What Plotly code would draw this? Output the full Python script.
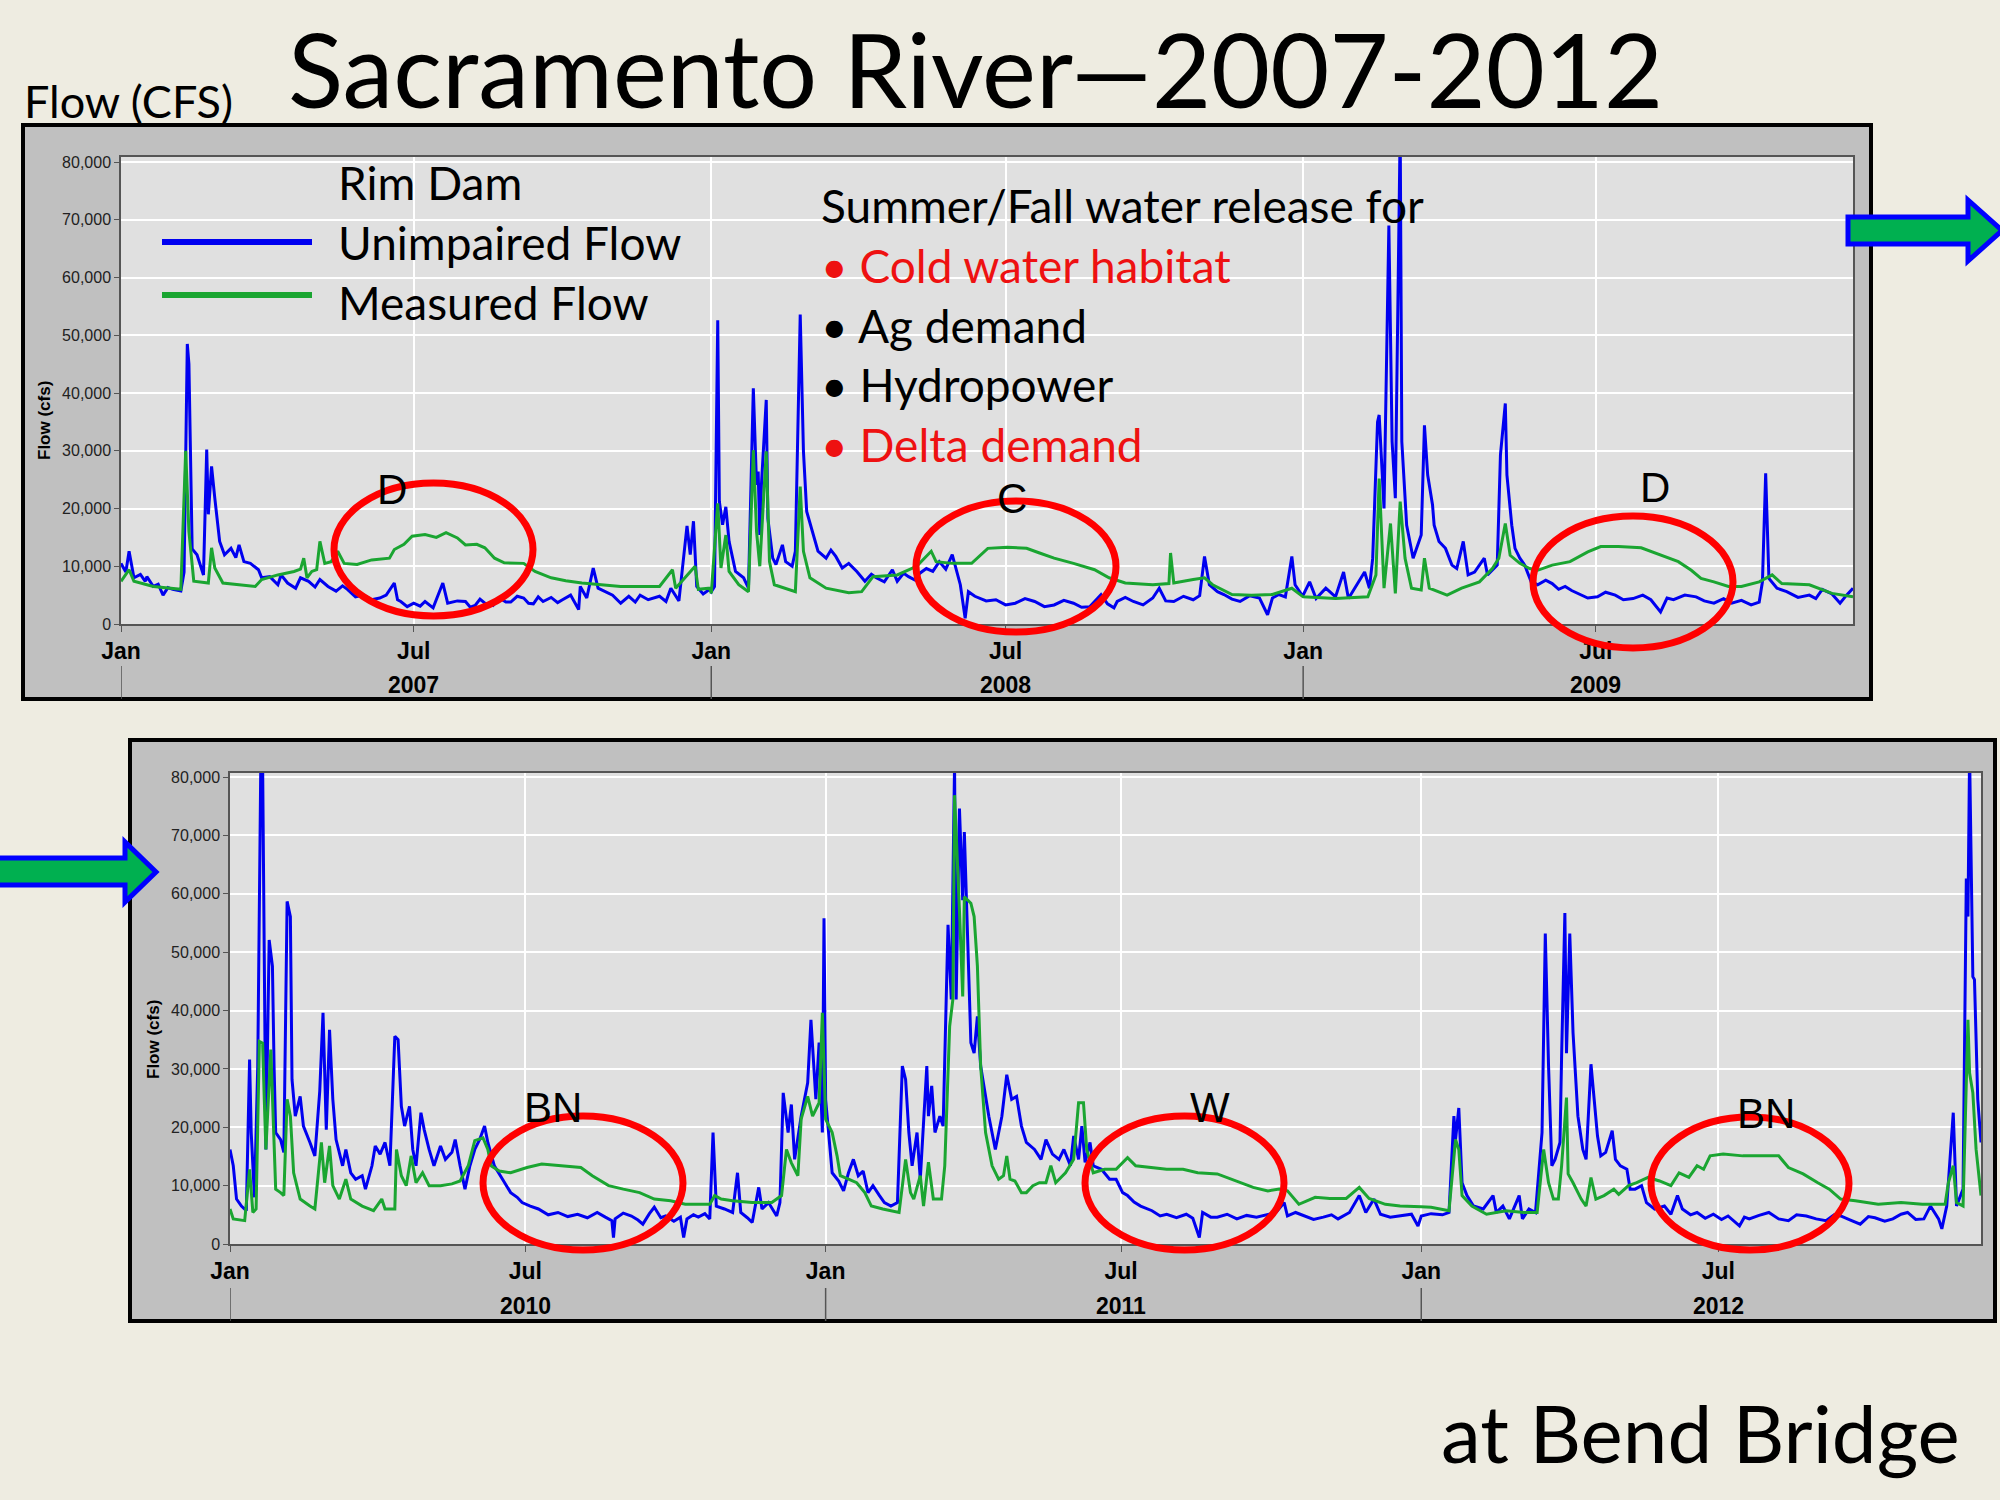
import pandas as pd
import plotly.graph_objects as go

W, H = 2000, 1500
SLIDE_FONT = "Lato"
CHART_FONT = "Liberation Sans"
BLUE = "#0000f0"
GREEN = "#1aa531"
RED = "#ee1111"

# (day of year, cfs), one list per series per year
U2007 = [(0, 10500), (3, 9000), (5, 12600), (8, 8000), (12, 8600), (15, 7400), (16, 8200), (20, 6500),
         (23, 6900), (26, 5000), (29, 6300), (32, 6000), (37, 5700), (39, 9000), (41, 48500), (42, 45000),
         (44, 13000), (47, 12000), (51, 8500), (53, 30200), (54, 19000), (56, 27300), (58, 21800),
         (61, 14300), (64, 12000), (68, 13100), (71, 11500), (73, 13700), (76, 10800), (80, 10500),
         (85, 9400), (87, 8000), (92, 8200), (97, 6800), (99, 8500), (103, 7100), (108, 6200), (111, 8000),
         (116, 7400), (120, 6400), (123, 7700), (128, 6500), (133, 5700), (137, 6600), (140, 6000),
         (145, 4700), (150, 5000), (155, 4200), (160, 4500), (164, 5000), (169, 7100), (171, 4200),
         (173, 3900), (177, 3000), (181, 3600), (185, 3100), (188, 3900), (193, 2800), (199, 7100),
         (202, 3600), (208, 4000), (213, 3900), (216, 2900), (219, 3200), (222, 4300), (225, 3600),
         (230, 3200), (234, 4500), (238, 3800), (241, 3800), (245, 4800), (249, 4500), (252, 3600),
         (255, 3500), (258, 4700), (261, 3900), (266, 4600), (270, 3700), (273, 4200), (278, 5000),
         (283, 2500), (284, 6500), (288, 4500), (292, 9700), (295, 6200), (300, 5500), (304, 5000),
         (309, 3600), (314, 4800), (318, 3800), (321, 5000), (326, 4200), (333, 4800), (337, 3900),
         (340, 6200), (345, 4000), (350, 17000), (352, 12000), (354, 17800), (356, 6500), (360, 5200),
         (364, 6000)]
M2007 = [(0, 7400), (5, 9400), (8, 7400), (20, 6500), (37, 6000), (40, 30000), (42, 16000), (45, 7400),
         (54, 7100), (56, 13200), (58, 9700), (63, 7100), (83, 6500), (87, 7700), (97, 8500), (107, 9100),
         (111, 9500), (113, 11400), (115, 8000), (118, 9100), (121, 9400), (123, 14300), (126, 10500),
         (130, 10800), (134, 12600), (138, 10500), (146, 10300), (155, 11100), (166, 11400), (169, 12900),
         (175, 13800), (180, 15200), (188, 15500), (195, 15000), (201, 15800), (208, 14900), (213, 13700),
         (220, 13800), (225, 13200), (231, 11400), (237, 10600), (249, 10500), (256, 9100), (266, 8000),
         (275, 7500), (285, 7100), (297, 6800), (309, 6500), (333, 6500), (341, 9400), (343, 6200),
         (355, 10000), (357, 6000), (364, 6200)]

U2008 = [(0, 5600), (2, 6500), (4, 52600), (5, 21200), (7, 17200), (9, 20300), (11, 14300), (15, 9100),
         (20, 8000), (23, 6200), (26, 40800), (28, 24100), (29, 26400), (30, 15400), (31, 24000),
         (34, 38800), (35, 18300), (38, 11400), (40, 10300), (44, 13700), (46, 10800), (50, 10000),
         (52, 12600), (55, 53600), (57, 29900), (59, 19500), (62, 16600), (66, 12600), (71, 11400),
         (74, 12800), (77, 11700), (81, 9700), (85, 10500), (90, 9100), (95, 7400), (99, 8600), (102, 8000),
         (107, 7300), (112, 9400), (115, 7400), (119, 8800), (122, 8200), (126, 7600), (129, 8800),
         (133, 9600), (137, 9100), (141, 10800), (145, 9500), (149, 12000), (152, 9000), (154, 6800),
         (157, 1000), (159, 5600), (163, 4800), (170, 4000), (176, 4200), (182, 3300), (188, 3600),
         (194, 4400), (200, 3900), (206, 3000), (212, 3300), (218, 4100), (224, 3600), (229, 2900),
         (234, 3000), (241, 5100), (245, 3500), (249, 2800), (251, 3900), (256, 4600), (261, 3900),
         (267, 3300), (273, 4500), (277, 6200), (281, 4000), (286, 3900), (292, 4800), (298, 4200),
         (302, 4900), (305, 11700), (308, 6800), (313, 5600), (317, 5100), (322, 4300), (327, 3900),
         (333, 4900), (339, 4500), (344, 1600), (347, 4500), (351, 5100), (355, 4700), (359, 11700),
         (361, 6800), (365, 5100)]
M2008 = [(0, 5300), (4, 20900), (6, 9700), (9, 15400), (11, 9100), (17, 6800), (23, 5600), (26, 30100),
         (28, 16000), (30, 10000), (34, 29900), (36, 10800), (39, 6800), (46, 6200), (52, 5600), (55, 23800),
         (57, 12600), (61, 8000), (71, 6200), (85, 5400), (93, 5600), (100, 8200), (115, 8500), (127, 10000),
         (136, 12600), (139, 10800), (149, 10500), (161, 10500), (171, 13100), (183, 13300), (195, 13100),
         (203, 12300), (212, 11400), (224, 10500), (237, 9400), (246, 8000), (256, 7100), (273, 6800),
         (283, 7000), (284, 12300), (286, 7100), (298, 7700), (305, 8000), (310, 6800), (322, 5100),
         (334, 5000), (347, 5100), (359, 6200), (365, 5000)]

U2009 = [(0, 5000), (4, 7300), (8, 4400), (14, 6200), (20, 4700), (25, 9000), (28, 4400), (32, 6200),
         (38, 9000), (41, 6200), (43, 11400), (46, 35000), (47, 36200), (50, 20000), (53, 69000),
         (55, 31600), (57, 21800), (60, 86000), (61, 31600), (64, 17100), (68, 11400), (73, 15400),
         (75, 34400), (77, 25800), (80, 20600), (81, 17100), (84, 14300), (88, 13100), (92, 10200),
         (95, 9600), (99, 14300), (102, 8500), (106, 9000), (112, 11400), (114, 8500), (120, 10200),
         (122, 29300), (125, 38200), (126, 25800), (129, 17100), (131, 13100), (134, 11400), (137, 10200),
         (141, 7300), (145, 6800), (150, 7600), (154, 7000), (158, 6000), (162, 6500), (166, 5800),
         (170, 5300), (176, 4500), (182, 4700), (187, 5500), (193, 5000), (198, 4200), (204, 4400),
         (210, 5000), (215, 4200), (221, 2100), (225, 4500), (229, 4200), (236, 5000), (243, 4700),
         (248, 4000), (254, 3600), (260, 4400), (265, 3600), (271, 4100), (277, 3300), (282, 3800),
         (284, 7300), (286, 26100), (288, 7900), (293, 6200), (299, 5600), (306, 4600), (313, 5000),
         (317, 4400), (321, 6000), (327, 5200), (332, 3600), (336, 5000), (340, 6200)]
M2009 = [(0, 4700), (20, 4400), (40, 4700), (45, 8500), (47, 25200), (50, 6200), (54, 17400), (57, 5300),
         (60, 21200), (63, 11400), (67, 6200), (73, 5900), (75, 11400), (78, 6200), (89, 5000), (98, 6200),
         (109, 7300), (117, 9600), (121, 11400), (125, 17400), (128, 11900), (134, 10500), (140, 9600),
         (145, 9300), (154, 10200), (165, 10800), (176, 12500), (184, 13400), (195, 13400), (209, 13200),
         (221, 11900), (232, 10800), (240, 9300), (246, 7900), (254, 7300), (263, 6500), (271, 6500),
         (282, 7300), (290, 8500), (296, 7000), (313, 6800), (327, 5300), (340, 4700)]

U2010 = [(0, 16200), (2, 13400), (4, 7700), (7, 6500), (10, 5700), (12, 31600), (13, 19100), (15, 8000),
         (17, 30500), (19, 86000), (20, 82000), (21, 53200), (22, 16200), (24, 52100), (26, 47600),
         (27, 30500), (28, 19100), (31, 17900), (33, 15700), (35, 58700), (37, 56100), (38, 28200),
         (40, 21900), (43, 25300), (45, 20200), (49, 17400), (52, 15100), (55, 26200), (57, 39600),
         (59, 19600), (61, 36700), (63, 24800), (65, 17900), (69, 13400), (71, 16200), (74, 12200),
         (77, 11100), (81, 11700), (83, 9400), (87, 13400), (89, 16800), (92, 15400), (95, 17400),
         (98, 13400), (101, 35600), (103, 35000), (105, 23600), (107, 20200), (110, 23600), (112, 16200),
         (114, 13400), (117, 22500), (119, 19600), (122, 16200), (125, 13400), (129, 16800), (132, 14500),
         (136, 15700), (138, 17900), (141, 13400), (144, 9400), (147, 13400), (150, 16200), (153, 17900),
         (156, 20200), (158, 17400), (162, 13400), (167, 11100), (172, 8800), (176, 8000), (179, 7100),
         (184, 6500), (189, 6000), (195, 5000), (201, 5400), (207, 4700), (213, 5100), (219, 4500),
         (225, 5400), (230, 4600), (234, 4000), (235, 1100), (236, 4300), (241, 5300), (246, 4800),
         (250, 4100), (253, 3400), (257, 5200), (260, 6300), (264, 4500), (267, 4800), (272, 3900),
         (276, 4600), (278, 1100), (280, 4300), (284, 5000), (287, 4600), (291, 5200), (294, 4300),
         (296, 19100), (298, 6500), (303, 6000), (308, 5400), (311, 12200), (313, 5400), (317, 4500),
         (320, 3700), (324, 9700), (326, 6000), (330, 7100), (335, 4800), (337, 7100), (339, 25900),
         (342, 19100), (344, 23900), (346, 14500), (350, 21900), (354, 27600), (356, 38400), (359, 24800),
         (361, 34500), (363, 19100), (364, 55800)]
M2010 = [(0, 6000), (2, 4300), (9, 4000), (12, 12800), (14, 5400), (16, 6000), (18, 34700), (20, 34400),
         (21, 24800), (22, 16200), (25, 33300), (27, 15000), (28, 9400), (31, 8800), (33, 8300), (35, 24800),
         (37, 21900), (39, 12200), (43, 7700), (49, 6500), (52, 6000), (56, 17400), (58, 10500), (61, 16800),
         (63, 10000), (67, 7700), (71, 11100), (74, 7700), (81, 6500), (88, 5700), (93, 7700), (95, 6000),
         (101, 6000), (102, 16200), (105, 11700), (108, 10000), (111, 15100), (114, 10500), (118, 12200),
         (122, 10000), (129, 10000), (136, 10300), (141, 10800), (146, 13400), (150, 17700), (155, 18200),
         (158, 16200), (160, 13400), (165, 12500), (172, 12200), (182, 13100), (191, 13700), (203, 13400),
         (215, 13100), (222, 11700), (232, 10000), (241, 9400), (251, 8800), (260, 7700), (270, 7400),
         (279, 6800), (294, 6800), (297, 8300), (301, 7700), (308, 7400), (320, 7100), (332, 7100),
         (338, 8300), (341, 16200), (344, 13900), (348, 11700), (350, 21400), (354, 25300), (357, 21900),
         (361, 24200), (363, 39600)]

U2011 = [(0, 24800), (2, 19100), (4, 12200), (8, 10800), (11, 9100), (14, 12200), (17, 14500), (20, 11700),
         (23, 12500), (26, 8800), (29, 10000), (33, 8300), (36, 7100), (40, 6500), (44, 7100), (47, 30500),
         (49, 28200), (51, 19100), (53, 13400), (56, 19100), (58, 11100), (62, 30500), (63, 21900),
         (65, 27100), (67, 19100), (70, 21900), (72, 20200), (75, 54700), (77, 41900), (79, 82000),
         (80, 41900), (82, 74600), (84, 58900), (85, 70600), (87, 53200), (89, 34500), (91, 32700),
         (93, 39000), (95, 30500), (100, 21900), (104, 16200), (108, 21900), (111, 29000), (114, 24800),
         (117, 25300), (120, 20200), (123, 17400), (128, 16200), (132, 14500), (135, 17900), (139, 15400),
         (143, 14500), (146, 16200), (150, 13400), (152, 18500), (155, 14500), (157, 20200), (159, 14000),
         (162, 17400), (164, 13400), (169, 12800), (174, 11100), (178, 11100), (182, 8800), (185, 8300),
         (189, 7200), (193, 6500), (197, 6000), (200, 5700), (205, 4800), (209, 5100), (215, 4500),
         (221, 5100), (225, 4400), (229, 1100), (231, 5400), (236, 4600), (240, 4600), (246, 5100),
         (252, 4300), (258, 4900), (264, 4600), (270, 5000), (276, 5400), (281, 7100), (283, 4800),
         (288, 5400), (293, 4800), (299, 4200), (305, 4600), (310, 5000), (314, 4300), (321, 5400),
         (327, 8300), (331, 5400), (336, 7700), (340, 5100), (346, 4600), (352, 4800), (359, 5100),
         (363, 3100)]
M2011 = [(0, 21400), (4, 19100), (7, 15100), (9, 11700), (14, 11100), (19, 10500), (24, 8800), (28, 6500),
         (35, 6000), (45, 5400), (49, 14500), (52, 8800), (54, 7700), (58, 11700), (60, 6500), (63, 14000),
         (66, 7700), (71, 7700), (73, 13400), (76, 37300), (78, 42000), (79, 76900), (82, 57200), (84, 42400),
         (85, 59500), (89, 58400), (91, 56100), (93, 47600), (95, 30500), (98, 19100), (102, 13400),
         (106, 11100), (109, 11700), (111, 15100), (113, 11100), (116, 10800), (120, 8800), (123, 8800),
         (127, 10000), (131, 10500), (135, 10500), (138, 13400), (141, 10500), (147, 12200), (152, 14500),
         (155, 24200), (158, 24200), (160, 16200), (164, 12200), (171, 12800), (178, 12800), (182, 14000),
         (185, 14800), (190, 13400), (200, 13100), (209, 12800), (219, 12800), (228, 12200), (240, 12000),
         (252, 10800), (262, 9700), (271, 9100), (278, 9400), (283, 9100), (290, 6800), (300, 8000),
         (309, 7800), (319, 7800), (327, 9700), (333, 7800), (343, 6800), (352, 6500), (364, 6500)]

U2012 = [(0, 4800), (6, 5200), (13, 5000), (17, 5400), (20, 21900), (21, 17900), (23, 23300), (25, 10500),
         (28, 8300), (32, 6500), (38, 6000), (44, 8300), (46, 5400), (50, 6500), (54, 4300), (60, 8300),
         (62, 4300), (66, 6000), (70, 5400), (74, 19100), (76, 53200), (78, 30500), (80, 13400), (82, 14500),
         (85, 17400), (86, 32200), (88, 56700), (89, 32700), (91, 53200), (93, 36200), (96, 21900),
         (99, 16200), (101, 14500), (104, 30800), (106, 24800), (108, 18500), (110, 15100), (113, 15700),
         (117, 19400), (119, 14500), (122, 13400), (126, 12800), (128, 9400), (131, 9400), (135, 10000),
         (138, 7100), (143, 6000), (149, 6500), (153, 5100), (157, 8300), (160, 6000), (165, 5000),
         (169, 5400), (174, 4400), (179, 5100), (184, 4200), (188, 4800), (195, 3100), (198, 4600),
         (201, 4300), (207, 4900), (213, 5400), (219, 4300), (225, 4000), (230, 5000), (236, 4800),
         (242, 4300), (248, 4000), (253, 5000), (257, 4800), (263, 4100), (269, 3400), (274, 4700),
         (278, 4500), (284, 3900), (289, 4300), (294, 5100), (298, 5400), (303, 4200), (308, 4300),
         (312, 6500), (317, 4300), (319, 2600), (322, 6500), (326, 22500), (328, 6500), (332, 9400),
         (334, 62600), (335, 56100), (336, 84000), (338, 45800), (339, 45300), (341, 24800), (343, 17400)]
M2012 = [(0, 6400), (6, 6300), (17, 5700), (21, 17900), (23, 16200), (25, 8300), (31, 6500), (40, 5100),
         (52, 5700), (63, 5400), (71, 5400), (75, 16200), (78, 10500), (81, 7700), (84, 7700), (86, 13400),
         (89, 25100), (90, 12000), (93, 10500), (98, 7700), (101, 6500), (104, 11400), (107, 7700),
         (112, 8300), (118, 9400), (121, 8500), (127, 10000), (132, 10500), (139, 11400), (146, 10800),
         (153, 10000), (158, 12200), (164, 11400), (169, 13400), (173, 12800), (177, 15100), (185, 15400),
         (197, 15100), (208, 15100), (219, 15100), (225, 13100), (234, 12000), (243, 10500), (250, 9400),
         (257, 7700), (266, 7400), (280, 6800), (294, 7100), (307, 6800), (321, 6800), (323, 10500),
         (326, 13400), (328, 7100), (332, 6500), (335, 38400), (336, 29300), (338, 25900), (340, 16200),
         (343, 8300)]

TOP_UNIMPAIRED = [(2007, U2007), (2008, U2008), (2009, U2009)]
TOP_MEASURED = [(2007, M2007), (2008, M2008), (2009, M2009)]
BOTTOM_UNIMPAIRED = [(2010, U2010), (2011, U2011), (2012, U2012)]
BOTTOM_MEASURED = [(2010, M2010), (2011, M2011), (2012, M2012)]

TOP_YEARS = [2007, 2008, 2009]
BOTTOM_YEARS = [2010, 2011, 2012]
MONTH_LABELS = ["Jan", "Jul"]
Y_TICKS = [0, 10000, 20000, 30000, 40000, 50000, 60000, 70000, 80000]

TOP_CLASSES = ["D", "C", "D"]
BOTTOM_CLASSES = ["BN", "W", "BN"]
LEGEND_LINES = ["Rim Dam", "Unimpaired Flow", "Measured Flow"]
RELEASE_LINES = [("Summer/Fall water release for", "black", False),
                 ("Cold water habitat", RED, True),
                 ("Ag demand", "black", True),
                 ("Hydropower", "black", True),
                 ("Delta demand", RED, True)]


def series(by_year):
    dates, flows = [], []
    for year, pairs in by_year:
        start = pd.Timestamp(year=year, month=1, day=1)
        for day, cfs in pairs:
            dates.append(start + pd.Timedelta(days=day))
            flows.append(cfs)
    return dates, flows


def px(x, y):
    return x / W, 1 - y / H


def note(text, x, y, size, color="black", xanchor="left", family=SLIDE_FONT, **kw):
    xp, yp = px(x, y)
    return dict(text=text, x=xp, y=yp, xref="paper", yref="paper", xanchor=xanchor,
                yanchor="middle", showarrow=False,
                font=dict(family=family, size=size, color=color), **kw)


fig = go.Figure()
for xa, ya, unimp, meas in [("x", "y", TOP_UNIMPAIRED, TOP_MEASURED),
                            ("x2", "y2", BOTTOM_UNIMPAIRED, BOTTOM_MEASURED)]:
    d, v = series(unimp)
    fig.add_trace(go.Scatter(x=d, y=v, mode="lines", line=dict(color=BLUE, width=3),
                             xaxis=xa, yaxis=ya, name="Unimpaired Flow"))
    d, v = series(meas)
    fig.add_trace(go.Scatter(x=d, y=v, mode="lines", line=dict(color=GREEN, width=3),
                             xaxis=xa, yaxis=ya, name="Measured Flow"))


def xaxis(years, domain, end):
    ticks = [f"{y}-{m:02d}-01" for y in years for m in (1, 7)]
    return dict(domain=domain, type="date", range=[f"{years[0]}-01-01", end],
                tickvals=ticks, ticktext=MONTH_LABELS * len(years), automargin=False,
                showgrid=True, gridcolor="white", gridwidth=1.5,
                showline=True, linecolor="#555", linewidth=1.5, mirror=True,
                ticks="outside", ticklen=6, tickcolor="#555",
                tickfont=dict(family=CHART_FONT, size=23, color="black", weight="bold"))


def yaxis(domain, top):
    return dict(domain=domain, range=[0, top], tickvals=Y_TICKS, tickformat=",d", automargin=False,
                showgrid=True, gridcolor="white", gridwidth=2, zeroline=False,
                showline=True, linecolor="#555", linewidth=1.5, mirror=True,
                ticks="outside", ticklen=5, tickcolor="#555",
                tickfont=dict(family=CHART_FONT, size=16, color="#222"))


shapes = []
# panel frames
for x0, y0, x1, y1 in [(23, 125, 1871, 699), (130, 740, 1995, 1321)]:
    a, b = px(x0, y1)
    c, e = px(x1, y0)
    shapes.append(dict(type="rect", xref="paper", yref="paper", x0=a, y0=b, x1=c, y1=e,
                       fillcolor="#c0c0c0", line=dict(color="black", width=4), layer="below"))
# plot area backgrounds
for xr, yr in [("x domain", "y domain"), ("x2 domain", "y2 domain")]:
    shapes.append(dict(type="rect", xref=xr, yref=yr, x0=0, y0=0, x1=1, y1=1,
                       fillcolor="#e0e0e0", line=dict(width=0), layer="below"))
# year separators under the axis
for xr, years, y0, y1 in [("x", TOP_YEARS, 666, 699), ("x2", BOTTOM_YEARS, 1288, 1321)]:
    for y in years:
        shapes.append(dict(type="line", xref=xr, yref="paper", x0=f"{y}-01-01", x1=f"{y}-01-01",
                           y0=1 - y0 / H, y1=1 - y1 / H, line=dict(color="#555", width=1.5)))
# red ellipses around the summer releases
ELLIPSES = [(334, 483, 533, 616), (916, 501, 1116, 632), (1533, 516, 1733, 648),
            (483, 1116, 683, 1250), (1085, 1116, 1284, 1250), (1651, 1117, 1849, 1250)]
for x0, y0, x1, y1 in ELLIPSES:
    a, b = px(x0, y1)
    c, e = px(x1, y0)
    shapes.append(dict(type="circle", xref="paper", yref="paper", x0=a, y0=b, x1=c, y1=e,
                       line=dict(color="#ff0000", width=7)))
# legend swatches
for color, y in [(BLUE, 242), (GREEN, 295)]:
    a, b = px(162, y)
    c, _ = px(312, y)
    shapes.append(dict(type="line", xref="paper", yref="paper", x0=a, x1=c, y0=b, y1=b,
                       line=dict(color=color, width=6)))


# block arrows
def arrow(x0, xh, xt, ys0, ys1, yh0, yh1):
    ym = (yh0 + yh1) / 2
    pts = [(x0, ys0), (xh, ys0), (xh, yh0), (xt, ym), (xh, yh1), (xh, ys1), (x0, ys1)]
    path = "M " + " L ".join(f"{x / W:.5f},{1 - y / H:.5f}" for x, y in pts) + " Z"
    return dict(type="path", xref="paper", yref="paper", path=path,
                fillcolor="#00b050", line=dict(color="#0000ff", width=5))


shapes.append(arrow(1848, 1968, 2002, 217, 244, 200, 261))
shapes.append(arrow(-10, 125, 156, 858, 885, 842, 902))

# the text blocks are single annotations so their lines never collide
release_text = "<br>".join(
    f"<span style='color:{color}'>{chr(0x2022) + ' ' if bullet else ''}{text}</span>"
    for text, color, bullet in RELEASE_LINES)

annotations = [
    note("Sacramento River\u20142007-2012", 975, 68, 102, xanchor="center"),
    note("Flow (CFS)", 22, 101, 45),
    note("at Bend Bridge", 1962, 1432, 80, xanchor="right"),
    note("<br>".join(LEGEND_LINES), 336, 242, 46, align="left"),
    note(release_text, 819, 325, 46, align="left"),
    note("<b>Flow (cfs)</b>", 45, 421, 17, family=CHART_FONT, xanchor="center", textangle=-90),
    note("<b>Flow (cfs)</b>", 153, 1040, 17, family=CHART_FONT, xanchor="center", textangle=-90),
]
for label, (x, y) in zip(TOP_CLASSES + BOTTOM_CLASSES,
                         [(392, 489), (1012, 498), (1655, 487), (553, 1107), (1210, 1107), (1766, 1113)]):
    annotations.append(note(label, x, y, 42, family=CHART_FONT, xanchor="center"))
for xr, years, y in [("x", TOP_YEARS, 685), ("x2", BOTTOM_YEARS, 1306)]:
    for yr in years:
        annotations.append(dict(text=f"<b>{yr}</b>", x=f"{yr}-07-01", xref=xr, y=1 - y / H, yref="paper",
                                showarrow=False, xanchor="center", yanchor="middle",
                                font=dict(family=CHART_FONT, size=23, color="black")))

fig.update_layout(
    width=W, height=H, margin=dict(l=0, r=0, t=0, b=0, pad=0, autoexpand=False),
    paper_bgcolor="#eeece1", plot_bgcolor="rgba(0,0,0,0)", showlegend=False,
    xaxis=xaxis(TOP_YEARS, [121 / W, 1853 / W], "2009-12-07"),
    yaxis=yaxis([1 - 624 / H, 1 - 157 / H], 80870),
    xaxis2=xaxis(BOTTOM_YEARS, [230 / W, 1981 / W], "2012-12-09"),
    yaxis2=yaxis([1 - 1244 / H, 1 - 773 / H], 80700),
    shapes=shapes, annotations=annotations,
)
fig.update_layout(yaxis2_anchor="x2", xaxis2_anchor="y2")

# the page's default body margin would push the 2000x1500 slide off the window
fig.write_html("out.html", config={"displayModeBar": False},
               post_script="document.body.style.margin = '0';")
